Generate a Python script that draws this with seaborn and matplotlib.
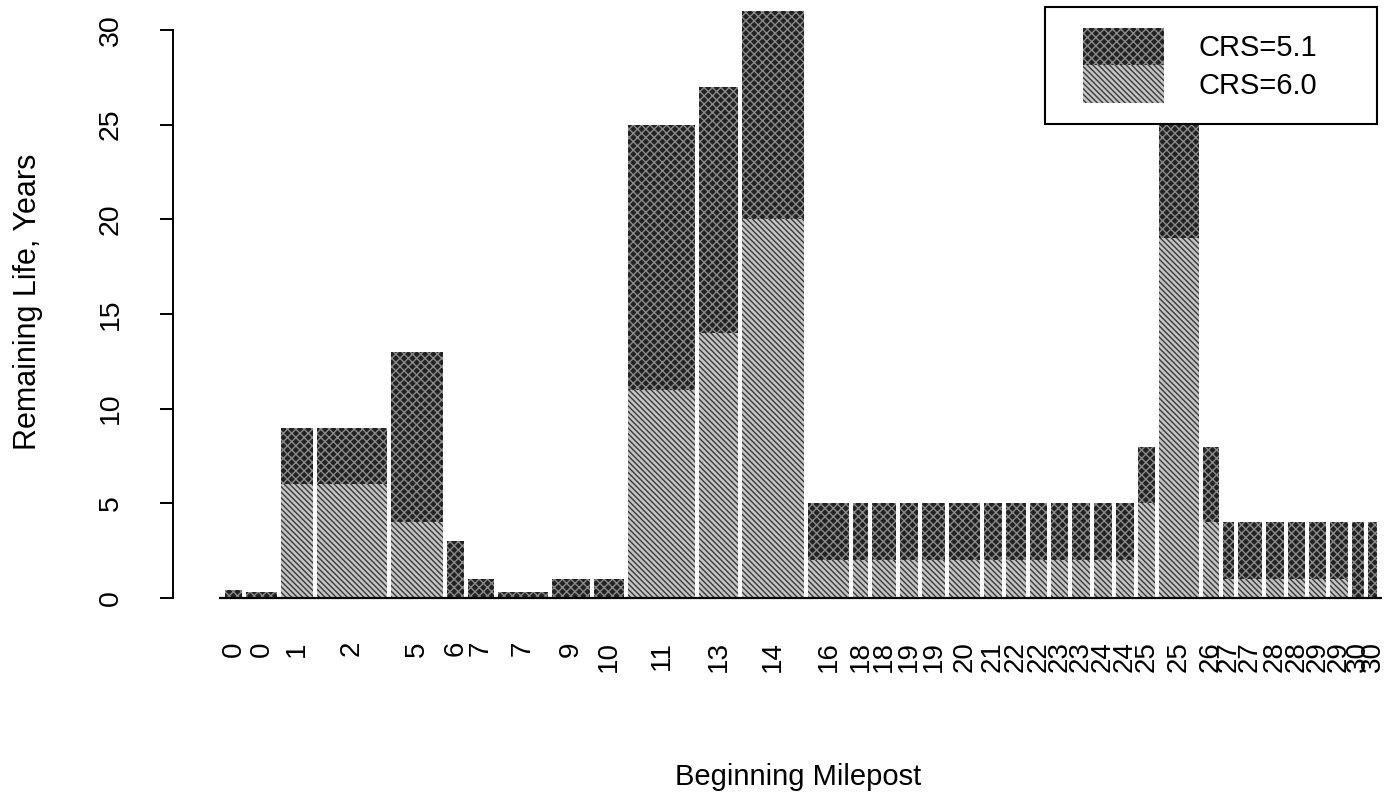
import numpy as np
import matplotlib
matplotlib.use("Agg")
import matplotlib.pyplot as plt
import seaborn as sns
from matplotlib.patches import Patch, Rectangle
from matplotlib.legend_handler import HandlerPatch

# ---------------- data ----------------
milepost_labels = ["0", "0", "1", "2", "5", "6", "7", "7", "9", "10", "11", "13", "14",
                   "16", "18", "18", "19", "19", "20", "21", "22", "22", "23", "23", "24", "24",
                   "25", "25", "26", "27", "27", "28", "28", "29", "29", "30", "30"]
segment_widths = [17, 31, 32, 70, 52, 17, 26, 50, 38, 30, 67, 39, 62,
                  41, 15, 24, 18, 23, 31, 18, 20, 17, 17, 18, 18, 18,
                  17, 40, 16, 11, 24, 18, 17, 17, 18, 12, 9]
crs_51 = [0.4, 0.3, 9, 9, 13, 3, 1, 0.3, 1, 1, 25, 27, 31,
          5, 5, 5, 5, 5, 5, 5, 5, 5, 5, 5, 5, 5,
          8, 30, 8, 4, 4, 4, 4, 4, 4, 4, 4]
crs_60 = [0, 0, 6, 6, 4, 0, 0, 0, 0, 0, 11, 14, 20,
          2, 2, 2, 2, 2, 2, 2, 2, 2, 2, 2, 2, 2,
          5, 19, 4, 1, 1, 1, 1, 1, 1, 0, 0]
series_names = ["CRS=5.1", "CRS=6.0"]
y_ticks = [0, 5, 10, 15, 20, 25, 30]

# ---------------- style ----------------
sns.set_theme(style="ticks")
plt.rcParams['font.family'] = ['Liberation Sans', 'DejaVu Sans']
plt.rcParams['hatch.linewidth'] = 1.0
plt.rcParams['text.color'] = 'black'
plt.rcParams['xtick.color'] = 'black'
plt.rcParams['ytick.color'] = 'black'
plt.rcParams['axes.labelcolor'] = 'black'

DARK = dict(facecolor="#222222", edgecolor="#8a8a8a", hatch="xxxx", linewidth=0)
LIGHT = dict(facecolor="#c4c4c4", edgecolor="#3a3a3a", hatch="\\\\\\\\\\\\", linewidth=0)

W, H = 1385, 793
fig = plt.figure(figsize=(W / 100, H / 100), dpi=100)
px_per_unit = 568 / 30.0
ax = fig.add_axes([173 / W, (H - 598) / H, (W - 173) / W, 598 / H])
ax.set_facecolor("white")

gap = 4
widths = np.array(segment_widths, dtype=float)
lefts = np.concatenate([[0.0], np.cumsum(widths[:-1] + gap)])
centers = lefts + widths / 2

ax.bar(lefts, crs_51, width=widths, align="edge", zorder=2, **DARK)
ax.bar(lefts, crs_60, width=widths, align="edge", zorder=2.5, **LIGHT)

ax.set_xlim(173 - 225, W - 225)
ax.set_ylim(0, 598 / px_per_unit)

# baseline
ax.hlines(0, -6, lefts[-1] + widths[-1] + 5, color="black", lw=1.6, clip_on=False, zorder=4)

for s in ["top", "right", "bottom"]:
    ax.spines[s].set_visible(False)
ax.spines["left"].set_bounds(0, 30)
ax.spines["left"].set_linewidth(1.4)
ax.spines["left"].set_color("black")

ax.set_yticks(y_ticks)
ax.set_yticklabels([str(t) for t in y_ticks])
ax.tick_params(axis="y", length=9.4, width=1.4, color="black", pad=26, labelsize=20.5,
               labelcolor="black", direction="out")
for t in ax.get_yticklabels():
    t.set_rotation(90)
    t.set_va("center")

ax.set_xticks(centers)
ax.set_xticklabels(milepost_labels, rotation=90)
ax.tick_params(axis="x", length=0, pad=31, labelsize=20, labelcolor="black")

ax.set_xlabel("")
ax.set_ylabel("")
fig.text(798 / W, 8 / H, "Beginning Milepost", ha="center", va="baseline",
         fontsize=21, color="black")
fig.text(28 / W, 1 - 302 / H, "Remaining Life, Years", ha="center", va="center",
         rotation=90, fontsize=22, color="black")

# legend
def legend_patch(legend, orig_handle, xdescent, ydescent, width, height, fontsize):
    shift = 0.58 * fontsize
    return Rectangle((-xdescent + shift, -ydescent), width - shift, height)

handles = [Patch(label=series_names[0], **DARK), Patch(label=series_names[1], **LIGHT)]
leg = ax.legend(handles=handles, loc="upper left",
                bbox_to_anchor=(1045 / W, 1 - 7 / H, 332 / W, 0.0),
                bbox_transform=fig.transFigure, mode="expand", borderaxespad=0,
                fontsize=21, handlelength=3.35, handleheight=1.6, labelspacing=0,
                handletextpad=1.2, borderpad=0.72, fancybox=False, framealpha=1,
                edgecolor="black", handler_map={Patch: HandlerPatch(patch_func=legend_patch)})
leg.get_frame().set_linewidth(1.5)
leg.set_zorder(10)
for txt in leg.get_texts():
    txt.set_color("black")

fig.savefig("out.png", dpi=100, facecolor="white")
